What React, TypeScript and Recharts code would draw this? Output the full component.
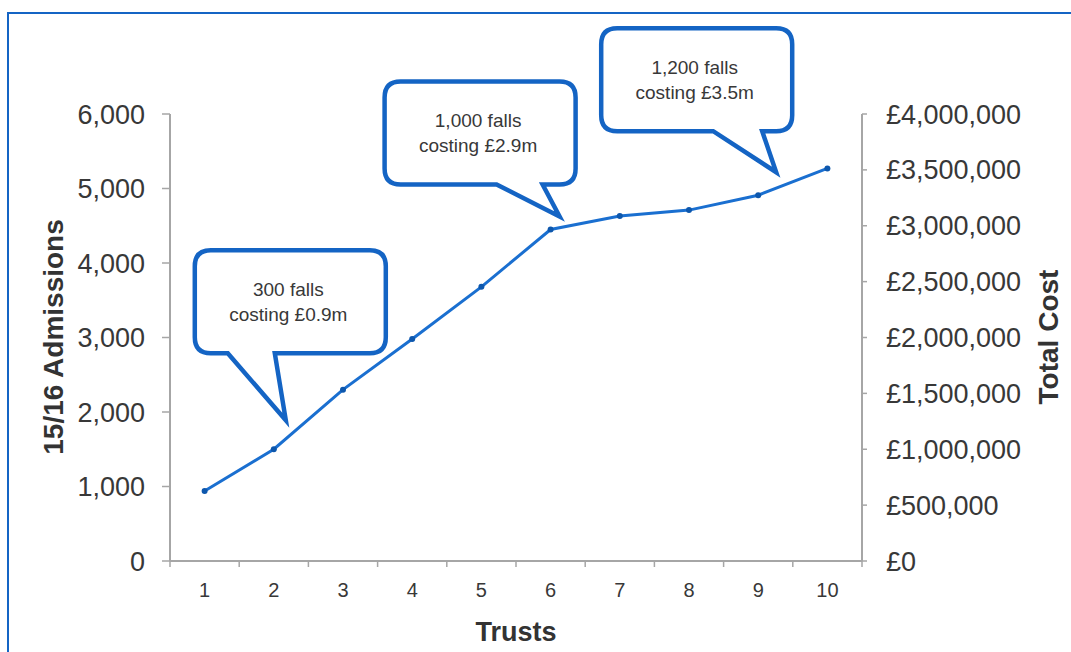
import React from "react";
import {
  LineChart,
  Line,
  XAxis,
  YAxis,
  ReferenceDot,
  Customized,
} from "recharts";

// admissions per trust
const trusts = [1, 2, 3, 4, 5, 6, 7, 8, 9, 10];
const admissions = [940, 1500, 2300, 2980, 3680, 4450, 4630, 4710, 4910, 5270];

const admissionTicks = [0, 1000, 2000, 3000, 4000, 5000, 6000];
const costTicks = [0, 500000, 1000000, 1500000, 2000000, 2500000, 3000000, 3500000, 4000000];

// speech-bubble notes: which trust they point at and what they say
const noteTrusts = [2, 6, 9];
const noteLines = [
  ["300 falls", "costing £0.9m"],
  ["1,000 falls", "costing £2.9m"],
  ["1,200 falls", "costing £3.5m"],
];

const data = trusts.map((t, i) => ({ trust: t, admissions: admissions[i] }));

const W = 1071;
const H = 652;
const PLOT_LEFT = 170;
const PLOT_RIGHT = 862;
const PLOT_TOP = 114;
const PLOT_BOTTOM = 561;
const LEFT_AXIS_W = 100;
const RIGHT_AXIS_W = 150;
const X_AXIS_H = 50;
const BAND = (PLOT_RIGHT - PLOT_LEFT) / trusts.length;

const FONT = '"Liberation Sans", Arial, sans-serif';
const BLUE = "#1464c4";
const AXIS = "#a6a6a6";
const TEXT = "#383838";

// bubble placement relative to the point it refers to
const noteLayout = [
  { dx: -79, dy: -199, baseL: -46, baseR: 1, tipX: 12, tipY: -29 },
  { dx: -166, dy: -148, baseL: -54, baseR: -8, tipX: 9, tipY: -13 },
  { dx: -157, dy: -167, baseL: -45, baseR: 4, tipX: 18, tipY: -23 },
];
const NOTE_W = 191;
const NOTE_H = 103;
const NOTE_R = 16;

const fmtCount = (v: number) => v.toLocaleString("en-GB");
const fmtPounds = (v: number) => "£" + v.toLocaleString("en-GB");

const makeNote = (idx: number) => (props: any) => {
  const { cx, cy } = props;
  const g = noteLayout[idx];
  const l = cx + g.dx;
  const t = cy + g.dy;
  const r = l + NOTE_W;
  const b = t + NOTE_H;
  const R = NOTE_R;
  const d = [
    `M ${l + R} ${t}`,
    `L ${r - R} ${t}`,
    `Q ${r} ${t} ${r} ${t + R}`,
    `L ${r} ${b - R}`,
    `Q ${r} ${b} ${r - R} ${b}`,
    `L ${cx + g.baseR} ${b}`,
    `L ${cx + g.tipX} ${cy + g.tipY}`,
    `L ${cx + g.baseL} ${b}`,
    `L ${l + R} ${b}`,
    `Q ${l} ${b} ${l} ${b - R}`,
    `L ${l} ${t + R}`,
    `Q ${l} ${t} ${l + R} ${t}`,
    "Z",
  ].join(" ");
  const tx = l + NOTE_W / 2 - 2;
  return (
    <g>
      <path d={d} fill="#fff" stroke={BLUE} strokeWidth={4.5} strokeLinejoin="miter" />
      {noteLines[idx].map((s, k) => (
        <text
          key={k}
          x={tx}
          y={t + 39 + k * 25}
          dy="0.35em"
          textAnchor="middle"
          fontSize={19}
          fontFamily={FONT}
          fill={TEXT}
        >
          {s}
        </text>
      ))}
    </g>
  );
};

const TrustTick = (props: any) => {
  const { x, y, payload, index } = props;
  const axisY = y - 22;
  const half = BAND / 2;
  return (
    <g>
      <line x1={x - half} y1={axisY} x2={x - half} y2={axisY + 6} stroke={AXIS} strokeWidth={1.5} />
      {index === trusts.length - 1 && (
        <line x1={x + half} y1={axisY} x2={x + half} y2={axisY + 6} stroke={AXIS} strokeWidth={1.5} />
      )}
      <text x={x} y={y} dy="0.71em" textAnchor="middle" fontSize={20} fontFamily={FONT} fill={TEXT}>
        {payload.value}
      </text>
    </g>
  );
};

const SmallDot = (props: any) => {
  const { cx, cy } = props;
  return <circle cx={cx} cy={cy} r={3} fill="#0d57ad" />;
};

const Titles = () => (
  <g fontFamily={FONT} fontWeight="bold" fill="#333">
    <text x={63} y={337} fontSize={28} textAnchor="middle" transform="rotate(-90 63 337)">
      15/16 Admissions
    </text>
    <text x={1058} y={337} fontSize={28} textAnchor="middle" transform="rotate(-90 1058 337)">
      Total Cost
    </text>
    <text x={(PLOT_LEFT + PLOT_RIGHT) / 2} y={641} fontSize={27} textAnchor="middle">
      Trusts
    </text>
  </g>
);

export default function App() {
  return (
    <div
      style={{
        position: "absolute",
        left: 0,
        top: 0,
        width: W,
        height: H,
        overflow: "hidden",
        background: "#fff",
      }}
    >
      <div
        style={{
          position: "absolute",
          left: 7,
          top: 12,
          width: W + 20,
          height: H + 20,
          border: `2px solid ${BLUE}`,
          boxSizing: "border-box",
        }}
      />
      <LineChart
        width={W}
        height={H}
        data={data}
        margin={{
          top: PLOT_TOP,
          left: PLOT_LEFT - LEFT_AXIS_W,
          right: W - PLOT_RIGHT - RIGHT_AXIS_W,
          bottom: H - PLOT_BOTTOM - X_AXIS_H,
        }}
        style={{ position: "absolute", left: 0, top: 0 }}
      >
        <XAxis
          dataKey="trust"
          scale="band"
          interval={0}
          height={X_AXIS_H}
          tickSize={6}
          tickMargin={16}
          tickLine={false}
          axisLine={{ stroke: AXIS, strokeWidth: 2 }}
          tick={<TrustTick />}
        />
        <YAxis
          yAxisId="left"
          width={LEFT_AXIS_W}
          domain={[0, 6000]}
          ticks={admissionTicks}
          interval={0}
          tickFormatter={fmtCount}
          tickSize={8}
          tickMargin={17}
          axisLine={{ stroke: AXIS, strokeWidth: 2 }}
          tickLine={{ stroke: AXIS, strokeWidth: 1.5 }}
          tick={{ fontSize: 27, fontFamily: FONT, fill: TEXT }}
        />
        <YAxis
          yAxisId="right"
          orientation="right"
          type="number"
          width={RIGHT_AXIS_W}
          domain={[0, 4000000]}
          allowDataOverflow
          ticks={costTicks}
          interval={0}
          tickFormatter={fmtPounds}
          tickSize={5}
          tickMargin={19}
          axisLine={{ stroke: AXIS, strokeWidth: 2 }}
          tickLine={{ stroke: AXIS, strokeWidth: 1.5 }}
          tick={{ fontSize: 27, fontFamily: FONT, fill: TEXT }}
        />
        <Line
          yAxisId="left"
          type="linear"
          dataKey="admissions"
          stroke="#1a6fd0"
          strokeWidth={3}
          dot={<SmallDot />}
          activeDot={false}
          isAnimationActive={false}
        />
        {noteTrusts.map((t, i) => (
          <ReferenceDot
            key={t}
            yAxisId="left"
            x={t}
            y={admissions[trusts.indexOf(t)]}
            shape={makeNote(i)}
          />
        ))}
        <Customized component={Titles} />
      </LineChart>
    </div>
  );
}
